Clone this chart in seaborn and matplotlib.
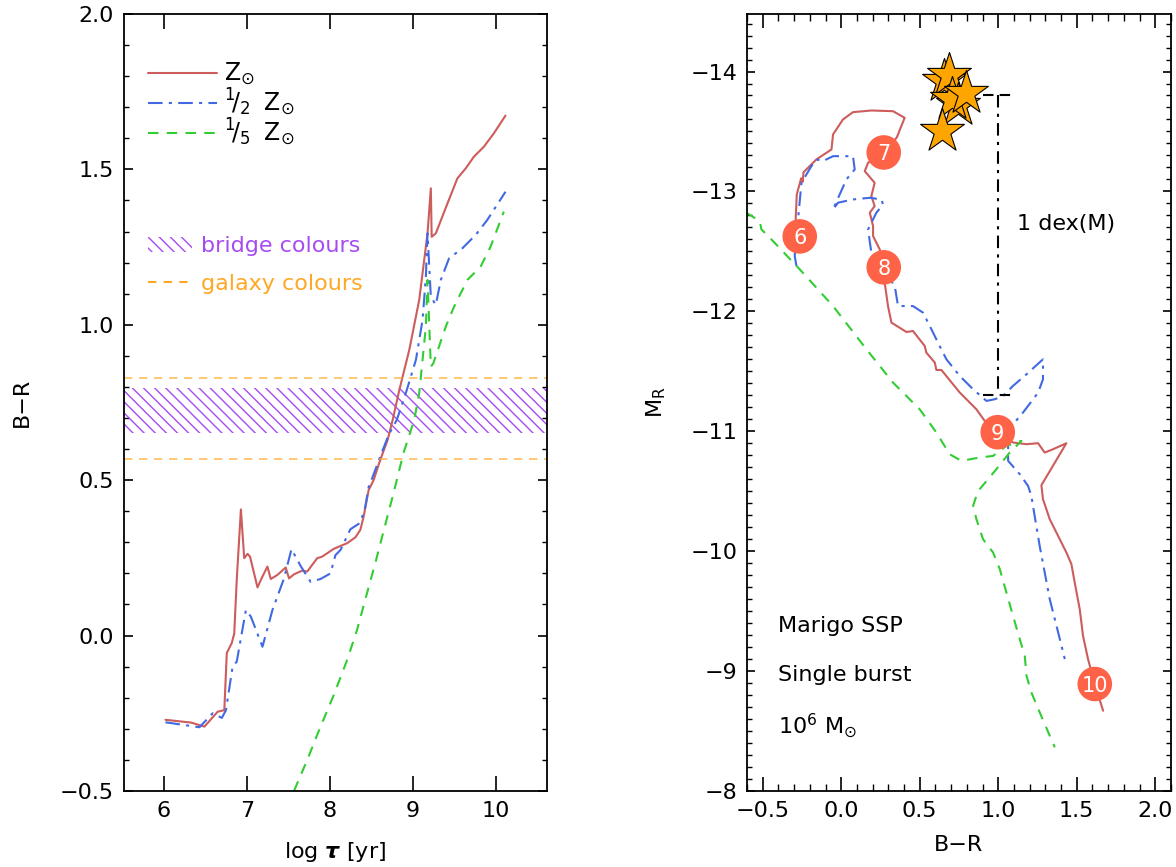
import matplotlib
matplotlib.use("Agg")
import matplotlib.pyplot as plt
from matplotlib.lines import Line2D
from matplotlib.patches import Patch
from matplotlib.ticker import MultipleLocator
import seaborn as sns
import pandas as pd

# ---- left panel: colour evolution B-R vs log age ----
logt_sol = [6.02, 6.33, 6.49, 6.65, 6.73, 6.76, 6.82, 6.85, 6.88, 6.93, 6.97, 7.01, 7.04, 7.13,
            7.19, 7.25, 7.29, 7.37, 7.47, 7.51, 7.57, 7.67, 7.73, 7.85, 7.91, 8.05, 8.11, 8.21,
            8.31, 8.37, 8.41, 8.47, 8.53, 8.61, 8.70, 8.76, 8.84, 8.96, 9.08, 9.18, 9.22, 9.23,
            9.28, 9.42, 9.54, 9.64, 9.74, 9.86, 9.98, 10.12]
br_sol = [-0.271, -0.28, -0.293, -0.245, -0.24, -0.056, -0.024, 0.007, 0.18, 0.406, 0.249, 0.263,
          0.254, 0.155, 0.19, 0.222, 0.182, 0.195, 0.219, 0.184, 0.197, 0.209, 0.206, 0.249, 0.254,
          0.279, 0.286, 0.297, 0.316, 0.34, 0.383, 0.468, 0.50, 0.565, 0.63, 0.694, 0.79, 0.919,
          1.08, 1.294, 1.439, 1.283, 1.294, 1.39, 1.471, 1.503, 1.541, 1.573, 1.616, 1.673]

logt_half = [6.02, 6.43, 6.59, 6.70, 6.75, 6.83, 6.88, 6.99, 7.05, 7.19, 7.31, 7.45, 7.54, 7.65,
             7.77, 7.89, 8.01, 8.07, 8.13, 8.25, 8.37, 8.43, 8.47, 8.49, 8.61, 8.71, 8.81, 8.93,
             9.04, 9.12, 9.16, 9.18, 9.22, 9.28, 9.34, 9.44, 9.60, 9.76, 9.90, 10.12]
br_half = [-0.279, -0.295, -0.25, -0.265, -0.24, -0.10, -0.084, 0.082, 0.061, -0.036, 0.082, 0.184,
           0.278, 0.224, 0.173, 0.182, 0.20, 0.259, 0.275, 0.342, 0.363, 0.415, 0.478, 0.49, 0.576,
           0.645, 0.694, 0.79, 0.887, 1.015, 1.155, 1.294, 1.09, 1.064, 1.144, 1.214, 1.246, 1.289,
           1.337, 1.428]

logt_fifth = [7.57, 7.73, 7.89, 8.05, 8.21, 8.33, 8.45, 8.55, 8.67, 8.77, 8.89, 9.02, 9.08, 9.12,
              9.16, 9.18, 9.22, 9.25, 9.40, 9.50, 9.66, 9.82, 9.94, 10.10]
br_fifth = [-0.50, -0.40, -0.293, -0.191, -0.079, 0.018, 0.136, 0.233, 0.356, 0.458, 0.587, 0.694,
            0.78, 0.887, 0.994, 1.144, 0.865, 0.876, 0.994, 1.058, 1.144, 1.187, 1.251, 1.364]

bridge_range = [0.651, 0.796]
galaxy_range = [0.568, 0.828]

# ---- right panel: colour-magnitude tracks ----
cmd_br_sol = [-0.264, -0.290, -0.283, -0.255, -0.245, -0.240, -0.190, -0.158, -0.062, -0.052, 0.011,
              0.075, 0.192, 0.330, 0.404, 0.354, 0.271, 0.171, 0.150, 0.213, 0.192, 0.213, 0.182,
              0.203, 0.203, 0.245, 0.271, 0.277, 0.298, 0.320, 0.415, 0.457, 0.532, 0.542, 0.596,
              0.606, 0.638, 0.755, 0.861, 0.914, 0.997, 1.094, 1.180, 1.254, 1.296, 1.349, 1.434,
              1.275, 1.285, 1.328, 1.381, 1.434, 1.466, 1.487, 1.519, 1.540, 1.572, 1.615, 1.668]
cmd_mr_sol = [-12.625, -12.767, -12.975, -13.11, -13.08, -13.16, -13.225, -13.267, -13.35, -13.475,
              -13.60, -13.661, -13.675, -13.669, -13.614, -13.45, -13.325, -13.239, -13.169, -13.072,
              -12.961, -12.878, -12.822, -12.711, -12.628, -12.517, -12.367, -12.239, -12.044,
              -11.906, -11.828, -11.836, -11.711, -11.656, -11.573, -11.511, -11.511, -11.323,
              -11.183, -11.086, -10.992, -10.906, -10.892, -10.90, -10.822, -10.85, -10.90, -10.55,
              -10.433, -10.267, -10.128, -9.989, -9.892, -9.739, -9.517, -9.294, -9.10, -8.892,
              -8.669]

cmd_br_half = [-0.285, -0.296, -0.275, -0.253, -0.190, -0.158, -0.116, -0.052, 0.075, 0.086, 0.033,
               -0.052, -0.020, 0.075, 0.182, 0.256, 0.266, 0.224, 0.192, 0.171, 0.192, 0.245, 0.341,
               0.362, 0.457, 0.521, 0.564, 0.627, 0.670, 0.755, 0.840, 0.925, 0.978, 1.031, 1.094,
               1.180, 1.285, 1.285, 1.254, 1.158, 1.094, 1.063, 1.063, 1.137, 1.190, 1.211, 1.232,
               1.264, 1.296, 1.328, 1.371, 1.424]
cmd_mr_half = [-12.378, -12.461, -12.767, -13.072, -13.211, -13.267, -13.253, -13.294, -13.294,
               -13.183, -13.10, -12.85, -12.906, -12.933, -12.947, -12.933, -12.892, -12.822,
               -12.739, -12.683, -12.489, -12.392, -12.211, -12.044, -12.044, -11.989, -11.878,
               -11.711, -11.60, -11.461, -11.35, -11.253, -11.267, -11.294, -11.378, -11.475, -11.60,
               -11.433, -11.322, -11.156, -11.058, -10.892, -10.753, -10.642, -10.544, -10.461,
               -10.294, -10.044, -9.822, -9.60, -9.378, -9.10]

cmd_br_fifth = [-0.604, -0.519, -0.508, -0.455, -0.264, -0.052, 0.161, 0.330, 0.500, 0.606, 0.691,
                0.766, 0.882, 0.967, 1.052, 1.148, 1.073, 0.988, 0.882, 0.861, 0.840, 0.861, 0.903,
                0.967, 1.010, 1.052, 1.094, 1.137, 1.169, 1.180, 1.211, 1.264, 1.360]
cmd_mr_fifth = [-12.822, -12.753, -12.683, -12.614, -12.35, -12.044, -11.683, -11.406, -11.183,
                -10.989, -10.808, -10.753, -10.781, -10.794, -10.878, -10.919, -10.822, -10.683,
                -10.517, -10.461, -10.378, -10.267, -10.10, -9.989, -9.85, -9.656, -9.461, -9.267,
                -9.128, -8.961, -8.822, -8.656, -8.364]

age_labels = ["6", "7", "8", "9", "10"]
age_br = [-0.264, 0.271, 0.271, 0.997, 1.615]
age_mr = [-12.625, -13.325, -12.367, -10.992, -8.892]

star_br = [0.653, 0.685, 0.742, 0.704, 0.793, 0.640]
star_mr = [-13.917, -13.967, -13.717, -13.767, -13.817, -13.508]

dex_x = 1.0
dex_cap = [0.9, 1.1]
dex_mr = [-13.8, -11.3]

RED = "#cd5c5c"
BLUE = "#4169e1"
GREEN = "#32cd32"
PURPLE = "#a64bf4"
ORANGE = "#ffa826"
CIRCLE = "#ff6347"
BLUE_DASH = (0, (7, 3, 1.5, 3))
GREEN_DASH = (0, (5, 4))
HATCH = "\\\\\\"

sns.set_style("ticks")
plt.rcParams["font.family"] = ["DejaVu Sans"]
plt.rcParams["mathtext.fontset"] = "dejavusans"
plt.rcParams["hatch.linewidth"] = 1.0
for k in ("text.color", "axes.labelcolor", "xtick.color", "ytick.color"):
    plt.rcParams[k] = "black"

fig = plt.figure(figsize=(11.76, 8.67), dpi=100)
ax1 = fig.add_axes([0.1054, 0.0877, 0.3597, 0.8962])
ax2 = fig.add_axes([0.6352, 0.0877, 0.3605, 0.8962])

# left panel
sns.lineplot(x=logt_sol, y=br_sol, sort=False, estimator=None, color=RED, lw=1.5, ax=ax1)
sns.lineplot(x=logt_half, y=br_half, sort=False, estimator=None, color=BLUE, lw=1.5,
             linestyle=BLUE_DASH, ax=ax1)
sns.lineplot(x=logt_fifth, y=br_fifth, sort=False, estimator=None, color=GREEN, lw=1.5,
             linestyle=GREEN_DASH, ax=ax1)
ax1.axhspan(bridge_range[0], bridge_range[1], facecolor="none", edgecolor=PURPLE,
            hatch=HATCH, linewidth=0)
for g in galaxy_range:
    ax1.axhline(g, color=ORANGE, lw=1.2, linestyle=(0, (5, 4)), alpha=0.75)

ax1.set_xlim(5.52, 10.62)
ax1.set_ylim(-0.5, 2.0)
ax1.xaxis.set_major_locator(MultipleLocator(1))
ax1.yaxis.set_major_locator(MultipleLocator(0.5))
ax1.yaxis.set_minor_locator(MultipleLocator(0.1))
ax1.set_xlabel(r"log $\boldsymbol{\tau}$ [yr]", fontsize=16, labelpad=14)
ax1.set_ylabel("B\u2212R", fontsize=16, labelpad=20)
ax1.tick_params(axis="x", which="major", length=11, width=1.2)
ax1.tick_params(axis="y", which="major", length=6.5, width=1.2)
ax1.tick_params(axis="y", which="minor", length=3.6, width=1.0)

h1 = [Line2D([], [], color=RED, lw=1.5),
      Line2D([], [], color=BLUE, lw=1.5, linestyle=BLUE_DASH),
      Line2D([], [], color=GREEN, lw=1.5, linestyle=GREEN_DASH)]
l1 = [r"$\mathrm{Z}_{\odot}$", r"$^{1}\!/_{2}\;\;\mathrm{Z}_{\odot}$",
      r"$^{1}\!/_{5}\;\;\mathrm{Z}_{\odot}$"]
leg1 = ax1.legend(h1, l1, loc="upper left", bbox_to_anchor=(0.03, 0.955), frameon=False,
                  fontsize=17, handlelength=2.9, handletextpad=0.3, labelspacing=-0.05,
                  borderpad=0)
ax1.add_artist(leg1)
h2 = [Patch(facecolor="none", edgecolor=PURPLE, hatch=HATCH, linewidth=0),
      Line2D([], [], color=ORANGE, lw=1.5, linestyle=(0, (4, 3.5)))]
ax1.legend(h2, ["bridge colours", "galaxy colours"], loc="upper left",
           bbox_to_anchor=(0.03, 0.728), frameon=False, fontsize=16, handlelength=2.0,
           handletextpad=0.4, labelspacing=0.8, borderpad=0, labelcolor=[PURPLE, ORANGE])

# right panel
sns.lineplot(x=cmd_br_sol, y=cmd_mr_sol, sort=False, estimator=None, color=RED, lw=1.5, ax=ax2)
sns.lineplot(x=cmd_br_half, y=cmd_mr_half, sort=False, estimator=None, color=BLUE, lw=1.5,
             linestyle=BLUE_DASH, ax=ax2)
sns.lineplot(x=cmd_br_fifth, y=cmd_mr_fifth, sort=False, estimator=None, color=GREEN, lw=1.5,
             linestyle=GREEN_DASH, ax=ax2)

ax2.plot([dex_x, dex_x], dex_mr, color="black", lw=1.5, linestyle=(0, (6, 3, 1.5, 3)))
for m in dex_mr:
    ax2.plot(dex_cap, [m, m], color="black", lw=1.5, linestyle=(0, (5, 3)))
ax2.text(1.118, -12.725, "1 dex(M)", fontsize=16, va="center", ha="left")

stars = pd.DataFrame({"br": star_br, "mr": star_mr})
sns.scatterplot(data=stars, x="br", y="mr", marker="*", s=1100, color="#ffa500",
                edgecolor="black", linewidth=0.8, ax=ax2, zorder=5)

ages = pd.DataFrame({"br": age_br, "mr": age_mr, "lab": age_labels})
sns.scatterplot(data=ages, x="br", y="mr", s=620, color=CIRCLE, edgecolor="none", ax=ax2,
                zorder=6)
for _, r in ages.iterrows():
    ax2.text(r["br"], r["mr"], r["lab"], color="white", fontsize=15, ha="center",
             va="center_baseline", zorder=7)

ax2.text(-0.404, -9.378, "Marigo SSP", fontsize=16, va="center")
ax2.text(-0.404, -8.967, "Single burst", fontsize=16, va="center")
ax2.text(-0.404, -8.54, r"10$^{6}$ M$_{\odot}$", fontsize=16, va="center")

ax2.set_xlim(-0.6, 2.1)
ax2.set_ylim(-8.0, -14.48)
ax2.xaxis.set_major_locator(MultipleLocator(0.5))
ax2.xaxis.set_minor_locator(MultipleLocator(0.1))
ax2.yaxis.set_major_locator(MultipleLocator(1))
ax2.yaxis.set_minor_locator(MultipleLocator(0.1))
ax2.set_xlabel("B\u2212R", fontsize=16, labelpad=10)
ax2.set_ylabel(r"M$_\mathrm{R}$", fontsize=16, labelpad=16)
ax2.tick_params(axis="x", which="major", length=10, width=1.2)
ax2.tick_params(axis="x", which="minor", length=5, width=1.0)
ax2.tick_params(axis="y", which="major", length=6, width=1.2)
ax2.tick_params(axis="y", which="minor", length=3.6, width=1.0)

for ax in (ax1, ax2):
    ax.tick_params(which="both", direction="in", top=True, right=True, labelsize=16,
                   color="black", pad=7)
    for s in ax.spines.values():
        s.set_visible(True)
        s.set_linewidth(1.3)
        s.set_color("black")

fig.savefig("out.png", dpi=100)
